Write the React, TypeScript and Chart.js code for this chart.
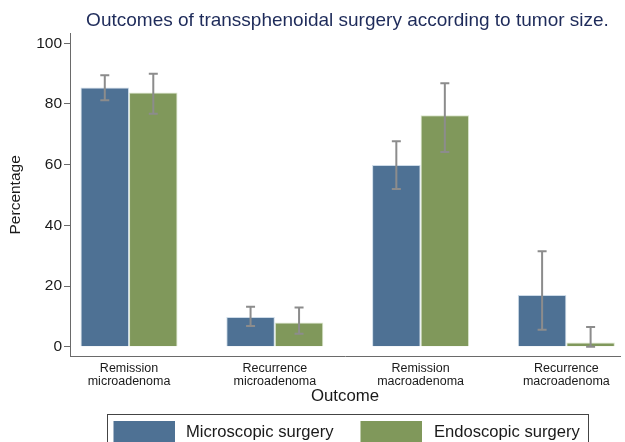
import React, { useEffect, useRef } from "react";
import { Chart, registerables } from "chart.js";

Chart.register(...registerables);

const titleText = "Outcomes of transsphenoidal surgery according to tumor size.";
const categories: string[][] = [
  ["Remission", "microadenoma"],
  ["Recurrence", "microadenoma"],
  ["Remission", "macroadenoma"],
  ["Recurrence", "macroadenoma"],
];
const seriesNames = ["Microscopic surgery", "Endoscopic surgery"];
const microValues = [85.4, 9.8, 59.9, 17.0];
const microLow = [81.2, 6.8, 52.0, 5.6];
const microHigh = [89.5, 13.2, 67.7, 31.5];
const endoValues = [83.8, 8.0, 76.3, 1.4];
const endoLow = [76.8, 4.3, 64.2, 0.0];
const endoHigh = [90.0, 12.9, 86.8, 6.5];
const yTicks = [0, 20, 40, 60, 80, 100];

const FONT = "'Liberation Sans', Arial, Helvetica, sans-serif";
const BLUE = "#4e7194";
const GREEN = "#80985b";
const colors = [BLUE, GREEN];

const errorBarPlugin = {
  id: "errorBars",
  afterDatasetsDraw(chart: any) {
    const ctx = chart.ctx;
    const yScale = chart.scales.y;
    const ranges = [
      [microLow, microHigh],
      [endoLow, endoHigh],
    ];
    ctx.save();
    ctx.strokeStyle = "#8c8c8c";
    ctx.lineWidth = 2;
    ranges.forEach(([lo, hi], di) => {
      const meta = chart.getDatasetMeta(di);
      meta.data.forEach((bar: any, i: number) => {
        const x = bar.x;
        const yl = yScale.getPixelForValue(lo[i]);
        const yh = yScale.getPixelForValue(hi[i]);
        ctx.beginPath();
        ctx.moveTo(x, yl);
        ctx.lineTo(x, yh);
        ctx.moveTo(x - 4.5, yl);
        ctx.lineTo(x + 4.5, yl);
        ctx.moveTo(x - 4.5, yh);
        ctx.lineTo(x + 4.5, yh);
        ctx.stroke();
      });
    });
    ctx.restore();
  },
};

const decorPlugin = {
  id: "decor",
  afterDraw(chart: any) {
    const ctx = chart.ctx;
    const area = chart.chartArea;
    ctx.save();
    // title
    ctx.fillStyle = "#1e2b5a";
    ctx.font = `19px ${FONT}`;
    ctx.textAlign = "center";
    ctx.textBaseline = "alphabetic";
    ctx.fillText(titleText, (area.left + area.right) / 2 + 2.5, 26);

    // legend
    const boxLeft = 107.5;
    const boxRight = 588.5;
    const boxTop = 414.5;
    ctx.strokeStyle = "#444";
    ctx.lineWidth = 1;
    ctx.strokeRect(boxLeft, boxTop, boxRight - boxLeft, 40);
    const items = [
      { sw: 113.5, tx: 186 },
      { sw: 360.5, tx: 434 },
    ];
    ctx.font = `16.6px ${FONT}`;
    ctx.textAlign = "left";
    items.forEach((it, i) => {
      ctx.fillStyle = colors[i];
      ctx.fillRect(it.sw, 421, 61.5, 24);
      ctx.fillStyle = "#1a1a1a";
      ctx.fillText(seriesNames[i], it.tx, 437);
    });
    ctx.restore();
  },
};

export default function App() {
  const ref = useRef<HTMLCanvasElement>(null);
  useEffect(() => {
    const chart = new Chart(ref.current as HTMLCanvasElement, {
      type: "bar",
      data: {
        datasets: [
          {
            label: seriesNames[0],
            data: microValues.map((v, i) => ({ x: i, y: v })),
            backgroundColor: BLUE,
            borderColor: "rgba(200,215,230,0.9)",
            borderWidth: 1,
          },
          {
            label: seriesNames[1],
            data: endoValues.map((v, i) => ({ x: i, y: v })),
            backgroundColor: GREEN,
            borderColor: "rgba(215,228,200,0.9)",
            borderWidth: 1,
          },
        ],
      },
      options: {
        responsive: false,
        animation: false,
        devicePixelRatio: 1,
        categoryPercentage: 0.6654,
        barPercentage: 1,
        layout: { padding: { top: 33, right: 5, left: 0, bottom: 0 } },
        plugins: {
          legend: { display: false },
          title: { display: false },
          tooltip: { enabled: false },
        },
        scales: {
          x: {
            type: "linear",
            min: -0.405,
            max: 3.368,
            offset: false,
            afterBuildTicks: (scale: any) => {
              scale.ticks = categories.map((_, i) => ({ value: i }));
            },
            afterFit: (scale: any) => {
              scale.height = 442 - 356.7;
            },
            grid: { display: true, drawOnChartArea: false, drawTicks: false, offset: false },
            border: { display: true, color: "#6a6a6a", width: 1 },
            ticks: {
              autoSkip: false,
              maxRotation: 0,
              padding: 5.9,
              color: "#1a1a1a",
              font: { family: FONT, size: 12.5, lineHeight: 1.02 },
              callback: (value: any) => categories[Math.round(Number(value))] ?? "",
            },
            title: {
              display: true,
              text: "Outcome",
              color: "#1a1a1a",
              font: { family: FONT, size: 16.8 },
              padding: { top: 0, bottom: 35.2 },
            },
          },
          y: {
            type: "linear",
            min: -3.3,
            max: 103.4,
            afterBuildTicks: (scale: any) => {
              scale.ticks = yTicks.map((v) => ({ value: v }));
            },
            afterFit: (scale: any) => {
              scale.width = 70;
            },
            grid: { drawOnChartArea: false, drawTicks: true, tickLength: 6, color: "#6a6a6a" },
            border: { display: true, color: "#6a6a6a", width: 1 },
            ticks: {
              padding: 2,
              color: "#1a1a1a",
              font: { family: FONT, size: 15.5 },
            },
            title: {
              display: true,
              text: "Percentage",
              color: "#1a1a1a",
              font: { family: FONT, size: 15.5 },
              padding: { top: 6, bottom: 0 },
            },
          },
        },
      } as any,
      plugins: [errorBarPlugin, decorPlugin],
    });
    return () => chart.destroy();
  }, []);
  return (
    <div style={{ position: "fixed", left: 0, top: 0, width: 625, height: 442, background: "#fff" }}>
      <canvas ref={ref} width={625} height={442} style={{ display: "block" }} />
    </div>
  );
}
